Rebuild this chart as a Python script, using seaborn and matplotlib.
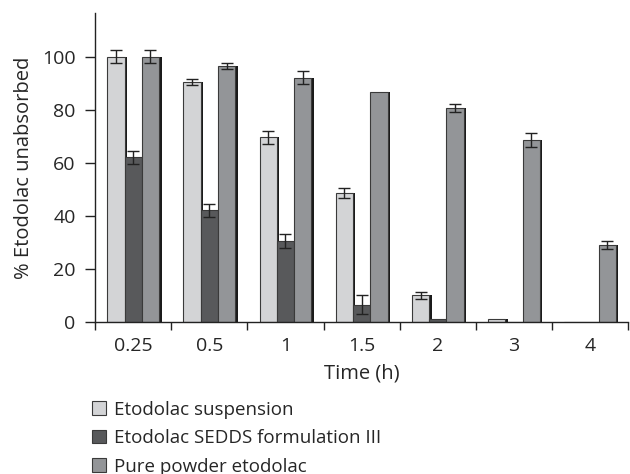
import matplotlib
matplotlib.use("Agg")
import matplotlib.pyplot as plt
import matplotlib.patheffects as pe
import seaborn as sns
import pandas as pd
import numpy as np

times = ["0.25", "0.5", "1", "1.5", "2", "3", "4"]
series = ["Etodolac suspension", "Etodolac SEDDS formulation III", "Pure powder etodolac"]
suspension = [100, 90.5, 69.5, 48.5, 10, 1, 0]
sedds = [62, 42, 30.5, 6.5, 1, 0, 0]
pure = [100, 96.5, 92, 86.5, 80.5, 68.5, 29]
err_susp = [2.5, 1.2, 2.5, 2, 1.2, 0, 0]
err_sedds = [2.5, 2.5, 2.5, 3.5, 0, 0, 0]
err_pure = [2.5, 1, 2.5, 0, 1.5, 2.5, 1.5]
colors = ["#d3d4d6", "#58595b", "#939598"]

sns.set_theme(style="white")
plt.rcParams['font.family'] = ['Open Sans', 'DejaVu Sans']

vals = [suspension, sedds, pure]
errs = [err_susp, err_sedds, err_pure]
df = pd.DataFrame({
    "Time": times * 3,
    "Value": suspension + sedds + pure,
    "Series": [s for s in series for _ in times],
})

fig = plt.figure(figsize=(6.3, 4.74), dpi=100)
ax = fig.add_axes([0.151, 0.321, 0.846, 0.652])
sns.barplot(data=df, x="Time", y="Value", hue="Series", order=times, hue_order=series,
            palette=colors, width=0.68, saturation=1, edgecolor="#3a3a3a", linewidth=0.8,
            errorbar=None, ax=ax, legend=True)

shadow = [pe.SimplePatchShadow(offset=(1.8, 0), shadow_rgbFace="#1a1a1a", alpha=1), pe.Normal()]
bar_containers = list(ax.containers)[:3]
for si, cont in enumerate(bar_containers):
    for bi, bar in enumerate(cont):
        if vals[si][bi] > 0:
            bar.set_path_effects(shadow)
        e = errs[si][bi]
        if e > 0:
            x = bar.get_x() + bar.get_width() / 2
            ax.errorbar(x, vals[si][bi], yerr=e, fmt="none", ecolor="#222222",
                        elinewidth=1, capsize=4, capthick=1, zorder=5)

ax.set_ylim(0, 116.5)
ax.set_xlim(-0.5, 6.5)
ax.set_yticks([0, 20, 40, 60, 80, 100])
ax.set_xticks(range(7))
ax.set_xticklabels(times)
ax.set_xticks(np.arange(-0.5, 7, 1), minor=True)
ax.tick_params(axis="x", which="major", length=0, pad=11, labelsize=14)
ax.tick_params(axis="x", which="minor", length=6, width=1, color="#222222", direction="out", bottom=True)
ax.tick_params(axis="y", length=7, width=1, color="#222222", direction="out", left=True, labelsize=14, pad=7)
for s in ["top", "right"]:
    ax.spines[s].set_visible(False)
for s in ["left", "bottom"]:
    ax.spines[s].set_color("#222222")
    ax.spines[s].set_linewidth(1)
ax.set_xlabel("Time (h)", fontsize=14.5, labelpad=6)
ax.set_ylabel("% Etodolac unabsorbed", fontsize=14.5, labelpad=6)

handles, labels = ax.get_legend_handles_labels()
ax.get_legend().remove()
fig.legend(handles, labels, loc="upper left", bbox_to_anchor=(0.146, 0.155), frameon=False,
           fontsize=13.5, handlelength=0.75, handleheight=0.75, handletextpad=0.4,
           labelspacing=0.56, borderaxespad=0, borderpad=0)

fig.savefig("out.png", dpi=100)
